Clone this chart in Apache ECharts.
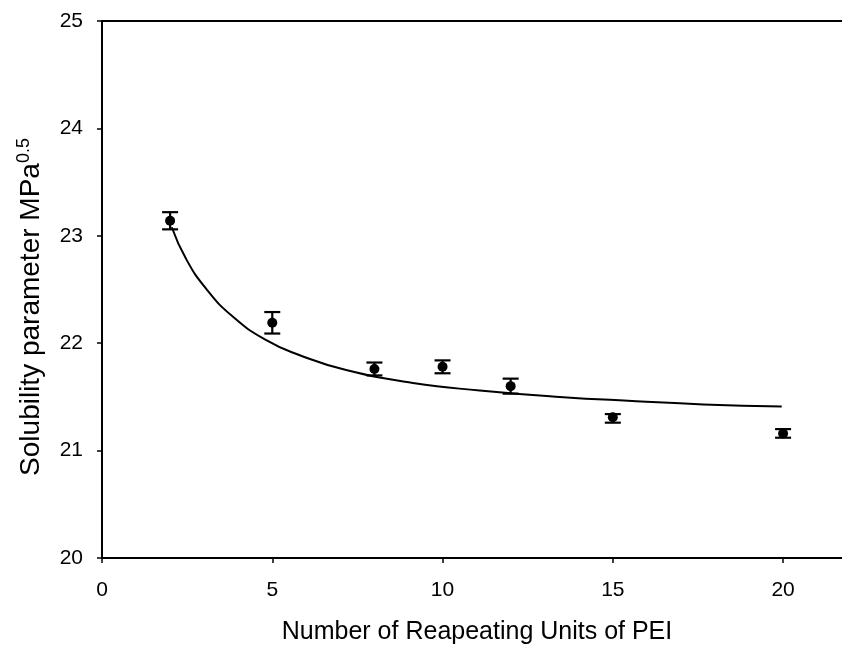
<!DOCTYPE html>
<html>
<head>
<meta charset="utf-8">
<script src="https://cdn.jsdelivr.net/npm/echarts@6/dist/echarts.min.js"></script>
<style>
  html, body { margin: 0; padding: 0; background: #fff; }
  #chart { width: 842px; height: 648px; }
</style>
</head>
<body>
<div id="chart"></div>
<script>
// Repeating units of PEI (x) and the measured solubility parameter with its error range
const units = [2, 5, 8, 10, 12, 15, 20];
const solubility = [23.14, 22.19, 21.76, 21.78, 21.60, 21.31, 21.16];
const errUpper = [23.22, 22.29, 21.82, 21.84, 21.67, 21.34, 21.20];
const errLower = [23.06, 22.09, 21.70, 21.72, 21.53, 21.26, 21.12];

// Fitted trend curve, sampled along its length
const fitX = [2.05, 2.46, 3.05, 3.83, 4.81, 5.79, 7.17, 9.13, 11.09, 13.44, 15.69, 17.66, 19.96];
const fitY = [23.08, 22.79, 22.51, 22.25, 22.03, 21.89, 21.75, 21.63, 21.56, 21.50, 21.46, 21.43, 21.41];

// Axis ticks
const xTicks = [0, 5, 10, 15, 20];
const yTicks = [20, 21, 22, 23, 24, 25];

const FONT = '"Liberation Sans", Arial, sans-serif';
const chart = echarts.init(document.getElementById('chart'), null, { renderer: 'canvas' });

const points = units.map((x, i) => [x, solubility[i]]);
const bars = units.map((x, i) => [x, errLower[i], errUpper[i]]);
const curve = fitX.map((x, i) => [x, fitY[i]]);

const axisLine = { show: true, lineStyle: { color: '#000', width: 2 } };

chart.setOption({
  animation: false,
  backgroundColor: '#fff',
  grid: { left: 102, right: 0, top: 21, bottom: 90 },
  xAxis: [{
    type: 'value', min: 0, max: 21.73, position: 'bottom',
    axisLine: axisLine,
    axisTick: { show: true, inside: false, length: 5, lineStyle: { color: '#000', width: 1.5 }, customValues: xTicks },
    axisLabel: { color: '#000', fontSize: 21, fontFamily: FONT, margin: 22, customValues: xTicks },
    splitLine: { show: false }
  }, {
    type: 'value', min: 0, max: 21.73, position: 'top',
    axisLine: axisLine, axisTick: { show: false }, axisLabel: { show: false }, splitLine: { show: false }
  }],
  yAxis: {
    type: 'value', min: 20, max: 25, interval: 1,
    axisLine: axisLine,
    axisTick: { show: true, inside: false, length: 5, lineStyle: { color: '#000', width: 1.5 }, customValues: yTicks },
    axisLabel: { color: '#000', fontSize: 21, fontFamily: FONT, margin: 19, customValues: yTicks },
    splitLine: { show: false }
  },
  graphic: [{
    type: 'text', x: 477, y: 632,
    style: { text: 'Number of Reapeating Units of PEI', font: '25px ' + FONT, fill: '#000', align: 'center', verticalAlign: 'middle' }
  }, {
    type: 'text', x: 31, y: 307, rotation: Math.PI / 2,
    style: {
      text: '{m|Solubility parameter MPa}{s|0.5}',
      align: 'center', verticalAlign: 'middle',
      rich: {
        m: { fontSize: 28, fontFamily: FONT, fill: '#000', color: '#000' },
        s: { fontSize: 18, fontFamily: FONT, fill: '#000', color: '#000', verticalAlign: 'top', padding: [0, 0, 14, 0] }
      }
    }
  }],
  series: [{
    name: 'fit', type: 'line', data: curve, smooth: 0.5,
    showSymbol: false, lineStyle: { color: '#000', width: 2 }, z: 2
  }, {
    name: 'error', type: 'custom', data: bars, z: 3,
    renderItem: function (params, api) {
      const x = api.value(0);
      const lo = api.coord([x, api.value(1)]);
      const hi = api.coord([x, api.value(2)]);
      const half = 8;
      const style = { stroke: '#000', lineWidth: 2.2 };
      return {
        type: 'group',
        children: [
          { type: 'line', shape: { x1: lo[0], y1: lo[1], x2: hi[0], y2: hi[1] }, style: style },
          { type: 'line', shape: { x1: lo[0] - half, y1: lo[1], x2: lo[0] + half, y2: lo[1] }, style: style },
          { type: 'line', shape: { x1: hi[0] - half, y1: hi[1], x2: hi[0] + half, y2: hi[1] }, style: style }
        ]
      };
    }
  }, {
    name: 'measured', type: 'scatter', data: points, symbol: 'circle', symbolSize: 10,
    itemStyle: { color: '#000', opacity: 1 }, z: 4
  }]
});
</script>
</body>
</html>
